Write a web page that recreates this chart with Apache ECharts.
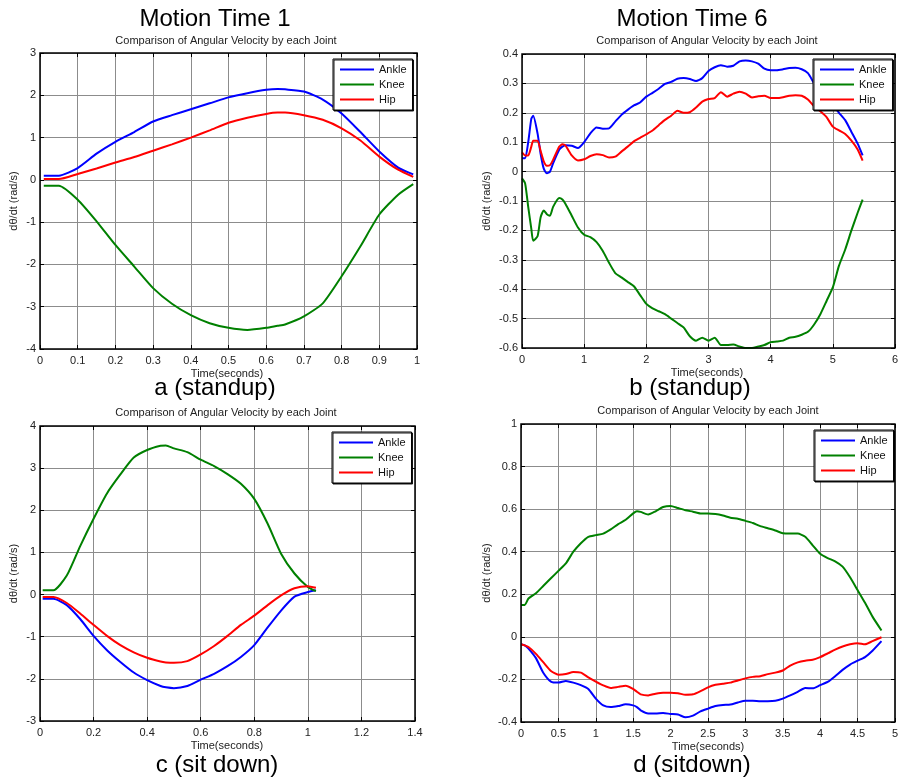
<!DOCTYPE html>
<html>
<head>
<meta charset="utf-8">
<script src="https://cdn.jsdelivr.net/npm/echarts@6/dist/echarts.min.js"></script>
<style>
  html, body { margin: 0; padding: 0; background: #fff; }
  #chart { width: 901px; height: 780px; }
</style>
</head>
<body>
<div id="chart"></div>
<script>
// ---- a: standup, motion time 1 ----
const timeA  = [0.01,0.05,0.1,0.15,0.2,0.25,0.3,0.35,0.4,0.45,0.5,0.55,0.6,0.63,0.65,0.7,0.75,0.8,0.85,0.9,0.95,0.99];
const ankleA = [0.1,0.1,0.28,0.62,0.9,1.13,1.38,1.53,1.67,1.81,1.95,2.05,2.13,2.15,2.14,2.09,1.9,1.57,1.13,0.67,0.29,0.13];
const kneeA  = [-0.14,-0.14,-0.47,-0.98,-1.54,-2.05,-2.56,-2.93,-3.2,-3.39,-3.5,-3.55,-3.5,-3.45,-3.42,-3.23,-2.92,-2.28,-1.57,-0.82,-0.35,-0.1];
const hipA   = [0.02,0.02,0.14,0.27,0.41,0.54,0.69,0.84,1.0,1.17,1.35,1.47,1.56,1.59,1.59,1.53,1.42,1.22,0.93,0.55,0.24,0.07];

// ---- b: standup, motion time 6 ----
const timeB  = [0,0.05,0.1,0.15,0.18,0.25,0.3,0.35,0.4,0.45,0.5,0.6,0.65,0.7,0.8,0.9,1.0,1.1,1.2,1.3,1.4,1.5,1.6,1.7,1.8,1.9,2.0,2.1,2.2,2.3,2.4,2.5,2.6,2.7,2.8,2.9,3.0,3.1,3.2,3.3,3.4,3.5,3.6,3.7,3.8,3.9,4.0,4.1,4.2,4.3,4.4,4.5,4.6,4.7,4.8,4.9,5.0,5.1,5.2,5.3,5.4,5.48];
const ankleB = [0.045,0.045,0.1,0.18,0.19,0.13,0.06,0.01,-0.006,0.0,0.028,0.075,0.085,0.09,0.088,0.08,0.1,0.13,0.15,0.146,0.147,0.17,0.193,0.21,0.225,0.235,0.255,0.268,0.282,0.298,0.305,0.316,0.318,0.315,0.308,0.318,0.342,0.355,0.362,0.357,0.36,0.375,0.378,0.375,0.367,0.35,0.345,0.345,0.348,0.352,0.353,0.348,0.335,0.3,0.27,0.245,0.225,0.2,0.175,0.135,0.095,0.055];
const kneeB  = [-0.023,-0.04,-0.12,-0.195,-0.235,-0.22,-0.155,-0.132,-0.145,-0.15,-0.12,-0.09,-0.095,-0.11,-0.15,-0.19,-0.215,-0.223,-0.24,-0.27,-0.31,-0.345,-0.36,-0.375,-0.39,-0.42,-0.45,-0.465,-0.475,-0.485,-0.5,-0.515,-0.53,-0.56,-0.575,-0.565,-0.575,-0.565,-0.59,-0.59,-0.588,-0.595,-0.6,-0.6,-0.595,-0.59,-0.58,-0.578,-0.575,-0.565,-0.562,-0.555,-0.545,-0.52,-0.485,-0.44,-0.394,-0.32,-0.265,-0.2,-0.14,-0.095];
const hipB   = [0.065,0.055,0.055,0.085,0.105,0.105,0.07,0.035,0.02,0.022,0.04,0.085,0.093,0.088,0.055,0.038,0.042,0.053,0.059,0.056,0.048,0.051,0.068,0.085,0.103,0.115,0.127,0.14,0.158,0.176,0.19,0.207,0.2,0.202,0.218,0.238,0.247,0.25,0.27,0.255,0.265,0.272,0.265,0.252,0.256,0.258,0.25,0.25,0.253,0.258,0.26,0.258,0.245,0.222,0.205,0.185,0.153,0.14,0.128,0.105,0.075,0.037];

// ---- c: sit down, motion time 1 ----
const timeC  = [0.01,0.05,0.1,0.15,0.2,0.25,0.3,0.35,0.4,0.45,0.47,0.5,0.55,0.6,0.65,0.7,0.75,0.8,0.85,0.9,0.95,1.0,1.03];
const ankleC = [-0.1,-0.1,-0.25,-0.58,-0.98,-1.32,-1.6,-1.85,-2.03,-2.17,-2.2,-2.22,-2.17,-2.02,-1.88,-1.7,-1.48,-1.2,-0.78,-0.38,-0.05,0.06,0.1];
const kneeC  = [0.1,0.1,0.45,1.15,1.8,2.4,2.85,3.25,3.43,3.53,3.54,3.47,3.38,3.2,3.05,2.86,2.63,2.27,1.68,0.97,0.5,0.18,0.08];
const hipC   = [-0.06,-0.06,-0.2,-0.45,-0.72,-0.98,-1.2,-1.37,-1.5,-1.59,-1.61,-1.62,-1.58,-1.42,-1.22,-0.98,-0.72,-0.5,-0.25,-0.02,0.15,0.2,0.16];

// ---- d: sitdown, motion time 6 ----
const timeD  = [0,0.05,0.1,0.2,0.3,0.4,0.5,0.6,0.7,0.8,0.9,1.0,1.1,1.2,1.3,1.4,1.5,1.55,1.6,1.7,1.8,1.9,2.0,2.1,2.2,2.3,2.4,2.5,2.6,2.7,2.8,2.9,3.0,3.1,3.2,3.3,3.4,3.5,3.6,3.7,3.8,3.9,4.0,4.1,4.2,4.3,4.4,4.5,4.6,4.7,4.82];
const ankleD = [-0.035,-0.04,-0.055,-0.1,-0.17,-0.21,-0.215,-0.207,-0.215,-0.227,-0.245,-0.29,-0.322,-0.33,-0.325,-0.317,-0.322,-0.33,-0.345,-0.36,-0.36,-0.358,-0.362,-0.365,-0.378,-0.37,-0.35,-0.337,-0.325,-0.32,-0.318,-0.308,-0.3,-0.3,-0.302,-0.302,-0.3,-0.29,-0.275,-0.258,-0.24,-0.242,-0.227,-0.212,-0.185,-0.155,-0.13,-0.112,-0.095,-0.065,-0.02];
const kneeD  = [0.15,0.15,0.18,0.205,0.24,0.275,0.31,0.345,0.4,0.44,0.47,0.478,0.485,0.505,0.53,0.55,0.58,0.59,0.587,0.575,0.59,0.61,0.615,0.605,0.595,0.588,0.58,0.58,0.577,0.57,0.56,0.555,0.545,0.535,0.52,0.51,0.5,0.487,0.485,0.485,0.47,0.43,0.39,0.37,0.355,0.33,0.28,0.22,0.16,0.095,0.03];
const hipD   = [-0.035,-0.04,-0.048,-0.08,-0.12,-0.16,-0.178,-0.175,-0.165,-0.168,-0.19,-0.21,-0.228,-0.24,-0.235,-0.23,-0.245,-0.258,-0.27,-0.275,-0.267,-0.262,-0.262,-0.265,-0.272,-0.27,-0.255,-0.237,-0.225,-0.22,-0.215,-0.205,-0.195,-0.188,-0.185,-0.175,-0.168,-0.158,-0.135,-0.12,-0.112,-0.108,-0.095,-0.078,-0.06,-0.045,-0.035,-0.03,-0.035,-0.02,-0.002];

// axis ranges per panel
const xRanges = [[0,1,0.1],[0,6,1],[0,1.4,0.2],[0,5,0.5]];
const yRanges = [[-4,3,1],[-0.6,0.4,0.1],[-3,4,1],[-0.4,1,0.2]];

const panelTitles = ['Motion Time 1','Motion Time 6','',''];
const panelCaptions = ['a (standup)','b (standup)','c (sit down)','d (sitdown)'];
const subTitle = 'Comparison of Angular Velocity by each Joint';
const xName = 'Time(seconds)';
const yName = 'd\u03B8/dt (rad/s)';
const jointNames = ['Ankle','Knee','Hip'];
const jointColors = ['#0000ff','#008000','#ff0000'];

const panels = [
  {t: timeA, v: [ankleA, kneeA, hipA]},
  {t: timeB, v: [ankleB, kneeB, hipB]},
  {t: timeC, v: [ankleC, kneeC, hipC]},
  {t: timeD, v: [ankleD, kneeD, hipD]}
];

const FONT = '"Liberation Sans", Arial, sans-serif';

const grids = [
  {left: 40,  top: 53,  width: 377, height: 296},
  {left: 522, top: 54,  width: 374, height: 294},
  {left: 40,  top: 426, width: 375, height: 295},
  {left: 521, top: 424, width: 377, height: 298}
];

// text placement for each panel
const layout = [
  {titleX: 215, titleY: 19, subX: 226, subY: 41, capX: 215, capY: 388, xnX: 227, xnY: 374, ynX: 14},
  {titleX: 692, titleY: 19, subX: 707, subY: 41, capX: 690, capY: 388, xnX: 707, xnY: 373, ynX: 487},
  {titleX: 0,   titleY: 0,  subX: 226, subY: 413, capX: 217, capY: 765, xnX: 227, xnY: 746, ynX: 14},
  {titleX: 0,   titleY: 0,  subX: 708, subY: 411, capX: 692, capY: 765, xnX: 708, xnY: 747, ynX: 487}
];

const legendBoxes = [
  {left: 333, top: 59},
  {left: 813, top: 59},
  {left: 332, top: 432},
  {left: 814, top: 430}
];

function fmt(v) {
  const r = Math.round(v * 1000) / 1000;
  return String(r);
}

const tickStyle = {show: true, inside: true, length: 4, lineStyle: {color: '#000'}};
const xAxes = [], yAxes = [], series = [], legends = [], graphics = [];

grids.forEach((g, i) => {
  const [xmin, xmax, xint] = xRanges[i];
  const [ymin, ymax, yint] = yRanges[i];
  // bottom / left axes carry labels and grid lines
  xAxes.push({
    type: 'value', gridIndex: i, min: xmin, max: xmax, interval: xint, position: 'bottom',
    axisLine: {show: false, onZero: false},
    axisTick: tickStyle,
    axisLabel: {color: '#222', fontSize: 11, fontFamily: FONT, margin: 6, formatter: fmt},
    splitLine: {show: true, lineStyle: {color: '#8c8c8c', width: 1}}
  });
  yAxes.push({
    type: 'value', gridIndex: i, min: ymin, max: ymax, interval: yint, position: 'left',
    axisLine: {show: false, onZero: false},
    axisTick: tickStyle,
    axisLabel: {color: '#222', fontSize: 11, fontFamily: FONT, margin: 4, formatter: fmt},
    splitLine: {show: true, lineStyle: {color: '#8c8c8c', width: 1}}
  });
});
// mirrored top / right axes with ticks only
grids.forEach((g, i) => {
  const [xmin, xmax, xint] = xRanges[i];
  const [ymin, ymax, yint] = yRanges[i];
  xAxes.push({
    type: 'value', gridIndex: i, min: xmin, max: xmax, interval: xint, position: 'top',
    axisLine: {show: false, onZero: false}, axisLabel: {show: false}, splitLine: {show: false},
    axisTick: tickStyle
  });
  yAxes.push({
    type: 'value', gridIndex: i, min: ymin, max: ymax, interval: yint, position: 'right',
    axisLine: {show: false, onZero: false}, axisLabel: {show: false}, splitLine: {show: false},
    axisTick: tickStyle
  });
});

panels.forEach((p, i) => {
  p.v.forEach((vals, j) => {
    series.push({
      name: jointNames[j],
      type: 'line',
      xAxisIndex: i, yAxisIndex: i,
      data: p.t.map((t, k) => [t, vals[k]]),
      showSymbol: false,
      smooth: 0.2,
      lineStyle: {color: jointColors[j], width: 2},
      itemStyle: {color: jointColors[j]},
      animation: false,
      z: 2
    });
  });
  legends.push({
    data: jointNames,
    orient: 'vertical',
    left: legendBoxes[i].left, top: legendBoxes[i].top,
    icon: 'rect', itemWidth: 34, itemHeight: 2, itemGap: 4,
    padding: [5, 6, 5, 7],
    backgroundColor: '#fff',
    borderColor: '#000', borderWidth: 1,
    shadowColor: 'rgba(0,0,0,0.9)', shadowOffsetX: 1, shadowOffsetY: 1, shadowBlur: 0,
    textStyle: {fontSize: 11, color: '#111', fontFamily: FONT, padding: [0, 0, 0, 0]},
    selectedMode: false,
    z: 10
  });

  const L = layout[i];
  if (panelTitles[i]) {
    graphics.push({type: 'text', x: L.titleX, y: L.titleY, style: {text: panelTitles[i], font: '24px ' + FONT, fill: '#000', textAlign: 'center', textVerticalAlign: 'middle'}});
  }
  graphics.push({type: 'text', x: L.subX, y: L.subY, style: {text: subTitle, font: '11px ' + FONT, fill: '#222', textAlign: 'center', textVerticalAlign: 'middle'}});
  graphics.push({type: 'text', x: L.capX, y: L.capY, style: {text: panelCaptions[i], font: '24px ' + FONT, fill: '#000', textAlign: 'center', textVerticalAlign: 'middle'}});
  graphics.push({type: 'text', x: L.xnX, y: L.xnY, style: {text: xName, font: '11px ' + FONT, fill: '#222', textAlign: 'center', textVerticalAlign: 'middle'}});
  const g = grids[i];
  graphics.push({type: 'text', x: L.ynX, y: g.top + g.height / 2, rotation: Math.PI / 2,
    style: {text: yName, font: '11px ' + FONT, fill: '#222', textAlign: 'center', textVerticalAlign: 'middle'}});
});

const chart = echarts.init(document.getElementById('chart'), null, {renderer: 'canvas'});
chart.setOption({
  backgroundColor: '#fff',
  animation: false,
  grid: grids.map(g => Object.assign({show: true, borderColor: '#000', borderWidth: 1.5, backgroundColor: 'transparent', z: 3}, g)),
  xAxis: xAxes,
  yAxis: yAxes,
  legend: legends,
  series: series,
  graphic: graphics
});
</script>
</body>
</html>
